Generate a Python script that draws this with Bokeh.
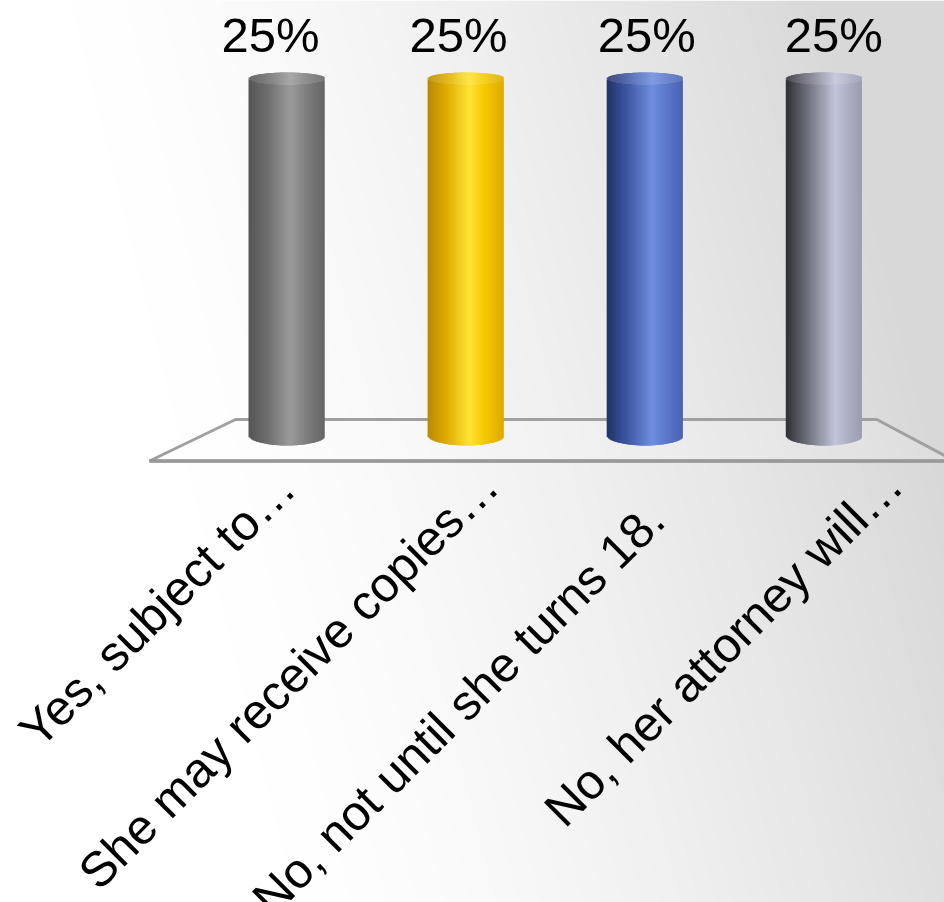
import numpy as np
from bokeh.plotting import figure
from bokeh.models import Range1d
from bokeh.core.properties import value
from bokeh.embed import file_html
from bokeh.resources import INLINE

# ---------------- data ----------------
categories = ["Yes, subject to…", "She may receive copies…",
              "No, not until she turns 18.", "No, her attorney will…"]
values = [25, 25, 25, 25]
value_labels = ["25%", "25%", "25%", "25%"]

# ---------------- layout / style ----------------
W, H = 944, 902
X0_PX = 286.0        # screen x of first category
DX_PX = 179.1        # screen distance between categories
Y0_PX = 435.0        # screen y of value 0
PX_PER_UNIT = 14.28  # screen px per value unit
FONT = "49px"

# value label horizontal drift (perspective), px
VAL_DX = [-16, -7, 2, 10]
VAL_RISE = 44        # px above bar top
# category label end offsets (px) relative to the category base point
LABEL_DX = [0, 24, 11, 70]
LABEL_DY = [44, 42, 76, 41]

bar_shades = [
    [(0.0, "#555555"), (0.25, "#6e6e6e"), (0.55, "#9c9c9c"), (0.75, "#808080"), (1.0, "#656565")],
    [(0.0, "#b88a00"), (0.25, "#e0ac00"), (0.55, "#ffe335"), (0.75, "#f5c800"), (1.0, "#dcaa00")],
    [(0.0, "#223266"), (0.25, "#3c55a0"), (0.6, "#6f8ee0"), (0.8, "#5a76c8"), (1.0, "#4a62b0")],
    [(0.0, "#2e2e34"), (0.2, "#5c5d68"), (0.65, "#c2c5da"), (0.85, "#a9abbf"), (1.0, "#9a9cb0")],
]

x_start = -X0_PX / DX_PX
x_end = x_start + W / DX_PX
y_end = Y0_PX / PX_PER_UNIT
y_start = -(H - Y0_PX) / PX_PER_UNIT

p = figure(width=W, height=H, x_range=Range1d(x_start, x_end),
           y_range=Range1d(y_start, y_end), output_backend="svg",
           toolbar_location=None, min_border=0,
           x_axis_location=None, y_axis_location=None)
p.grid.visible = False
p.outline_line_color = None
p.background_fill_color = "white"
p.border_fill_color = "white"

# ---------------- background gradient ----------------
px = np.arange(W) + 0.5
py = np.arange(H) + 0.5
PX, PY = np.meshgrid(px, py)
t = np.clip(((PX - 200.0) + 0.25 * (520.0 - PY)) / 760.0, 0, 1) ** 1.4
g = (255 - 39 * t).astype(np.uint8)
img = np.zeros((H, W), dtype=np.uint32)
view = img.view(dtype=np.uint8).reshape((H, W, 4))
view[..., 0] = g
view[..., 1] = g
view[..., 2] = g
view[..., 3] = 255
img = np.ascontiguousarray(np.flipud(img))
p.image_rgba(image=[img], x=x_start, y=y_start, dw=x_end - x_start, dh=y_end - y_start)

# ---------------- floor ----------------
n = len(values)
back_y = 16 / PX_PER_UNIT
front_y = -25.5 / PX_PER_UNIT
bl = -51 / DX_PX
fl = -137 / DX_PX
br = (n - 1) + 53 / DX_PX
fr = (n - 1) + 131 / DX_PX
p.patch([fl, bl, br, fr], [front_y, back_y, back_y, front_y],
        fill_color="white", fill_alpha=0.15, line_color="#a0a0a0", line_width=3)
p.line([fl, fr], [front_y, front_y], line_color="#999999", line_width=3.5)


# ---------------- cylinders ----------------
def hex2rgb(h):
    h = h.lstrip("#")
    return np.array([int(h[k:k + 2], 16) for k in (0, 2, 4)], dtype=float)


def shade(stops, u):
    us = [s[0] for s in stops]
    cs = np.array([hex2rgb(s[1]) for s in stops])
    return np.array([[np.interp(uu, us, cs[:, k]) for k in range(3)] for uu in u])


def to_hex(arr):
    return ["#%02x%02x%02x" % tuple(int(round(max(0, min(255, c)))) for c in row) for row in arr]


BAR_W = 76 / DX_PX
BT = 6 / PX_PER_UNIT
BB = 10 / PX_PER_UNIT
N = 60
edges = np.linspace(-1, 1, N + 1)
centers = (edges[:-1] + edges[1:]) / 2
s = np.sqrt(1 - centers ** 2)
u01 = (centers + 1) / 2
step = edges[1] - edges[0]
right_edges = np.minimum(edges[:-1] + 2.2 * step, 1.0)

for i, (v, stops) in enumerate(zip(values, bar_shades)):
    rgb = shade(stops, u01)
    cols = to_hex(rgb)
    cap = to_hex(rgb + (255 - rgb) * 0.12)
    left = i + edges[:-1] * BAR_W / 2
    right = i + right_edges * BAR_W / 2
    p.quad(left=left, right=right, bottom=-BB * s, top=v - BT * s,
           fill_color=cols, line_color=None)
    p.quad(left=left, right=right, bottom=v - BT * s, top=v + BT * s,
           fill_color=cap, line_color=None)

# ---------------- value labels ----------------
idx = list(range(n))
p.text(x=[i + VAL_DX[i] / DX_PX for i in idx],
       y=[v + VAL_RISE / PX_PER_UNIT for v in values], text=value_labels,
       text_align="center", text_baseline="alphabetic",
       text_font=value("Liberation Sans"), text_font_size=FONT, text_color="black")

# ---------------- category labels ----------------
p.text(x=[i + LABEL_DX[i] / DX_PX for i in idx],
       y=[-LABEL_DY[i] / PX_PER_UNIT for i in idx],
       text=categories, angle=np.pi / 4,
       text_align="right", text_baseline="alphabetic",
       text_font=value("Liberation Sans"), text_font_size=FONT, text_color="black")

open("out.html", "w").write(file_html(p, INLINE))
